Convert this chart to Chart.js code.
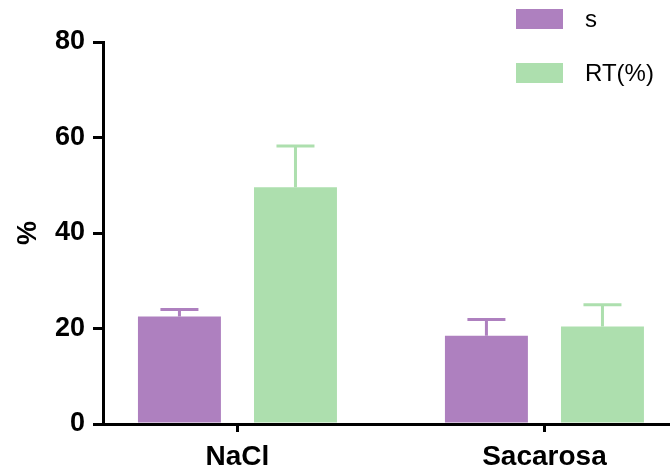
<!DOCTYPE html>
<html>
<head>
<meta charset="utf-8">
<script src="https://cdn.jsdelivr.net/npm/chart.js@4/dist/chart.umd.min.js"></script>
<style>
  html, body { margin: 0; padding: 0; background: #fff; }
  #wrap { width: 670px; height: 472px; position: relative; }
</style>
</head>
<body>
<div id="wrap"><canvas id="myChart"></canvas></div>
<script>
const categories = ['NaCl', 'Sacarosa'];
const seriesLabels = ['s', 'RT(%)'];
const sValues = [22.5, 18.5];
const sErrors = [1.5, 3.4];
const rtValues = [49.6, 20.4];
const rtErrors = [8.6, 4.6];
const yTicks = [0, 20, 40, 60, 80];

const purpleColor = '#ae80bf';
const greenColor = '#addfae';
const fontFamily = "'Liberation Sans', Arial, sans-serif";

function toPoints(values) {
  return values.map(function (v, i) { return { x: i, y: v }; });
}

// one-sided error bars (upward), like the original
const errorBars = {
  id: 'errorBars',
  afterDatasetsDraw(chart) {
    const ctx = chart.ctx;
    const yScale = chart.scales.y;
    chart.data.datasets.forEach(function (ds, di) {
      const meta = chart.getDatasetMeta(di);
      meta.data.forEach(function (bar, i) {
        const top = yScale.getPixelForValue(ds.data[i].y + ds.errors[i]);
        ctx.save();
        ctx.strokeStyle = ds.backgroundColor;
        ctx.lineWidth = 3;
        ctx.beginPath();
        ctx.moveTo(bar.x, bar.y);
        ctx.lineTo(bar.x, top);
        ctx.moveTo(bar.x - 19, top);
        ctx.lineTo(bar.x + 19, top);
        ctx.stroke();
        ctx.restore();
      });
    });
  }
};

// legend in the top right corner, above the plot
const cornerLegend = {
  id: 'cornerLegend',
  afterDraw(chart) {
    const ctx = chart.ctx;
    ctx.save();
    ctx.font = '24px ' + fontFamily;
    ctx.textBaseline = 'middle';
    chart.data.datasets.forEach(function (ds, di) {
      const y = 9 + di * 54;
      ctx.fillStyle = ds.backgroundColor;
      ctx.fillRect(516, y, 47, 20);
      ctx.fillStyle = '#000';
      ctx.fillText(ds.label, 585, y + 11);
    });
    ctx.restore();
  }
};

var ctx = document.getElementById('myChart');
var barChart = new Chart(ctx, {
  type: 'bar',
  data: {
    datasets: [
      {
        label: seriesLabels[0],
        data: toPoints(sValues),
        errors: sErrors,
        backgroundColor: purpleColor,
      },
      {
        label: seriesLabels[1],
        data: toPoints(rtValues),
        errors: rtErrors,
        backgroundColor: greenColor,
      },
    ],
  },
  options: {
    responsive: true,
    maintainAspectRatio: false,
    animation: false,
    categoryPercentage: 0.756,
    barPercentage: 0.715,
    layout: { padding: { top: 42, right: 0, left: 0, bottom: 0 } },
    plugins: {
      legend: { display: false },
      tooltip: { enabled: false },
    },
    scales: {
      x: {
        type: 'linear',
        offset: false,
        min: -0.438,
        max: 1.409,
        afterBuildTicks: function (scale) {
          scale.ticks = categories.map(function (c, i) { return { value: i }; });
        },
        afterFit: function (scale) { scale.height = 48; },
        border: { display: true, color: '#000', width: 3 },
        grid: {
          offset: false,
          drawOnChartArea: false,
          color: '#000',
          lineWidth: 3,
          tickLength: 8,
        },
        ticks: {
          color: '#000',
          padding: 8,
          font: { family: fontFamily, size: 28, weight: 'bold' },
          callback: function (v) { return categories[v]; },
        },
      },
      y: {
        min: 0,
        max: 80,
        afterBuildTicks: function (scale) {
          scale.ticks = yTicks.map(function (v) { return { value: v }; });
        },
        afterFit: function (scale) { scale.width = 103; },
        border: { display: true, color: '#000', width: 3 },
        grid: {
          drawOnChartArea: false,
          color: '#000',
          lineWidth: 3,
          tickLength: 10,
        },
        ticks: {
          color: '#000',
          padding: 8,
          font: { family: fontFamily, size: 27, weight: 'bold' },
        },
        title: {
          display: true,
          text: '%',
          color: '#000',
          padding: { top: 12, bottom: 0 },
          font: { family: fontFamily, size: 27, weight: 'bold' },
        },
      },
    },
  },
  plugins: [errorBars, cornerLegend],
});
</script>
</body>
</html>
